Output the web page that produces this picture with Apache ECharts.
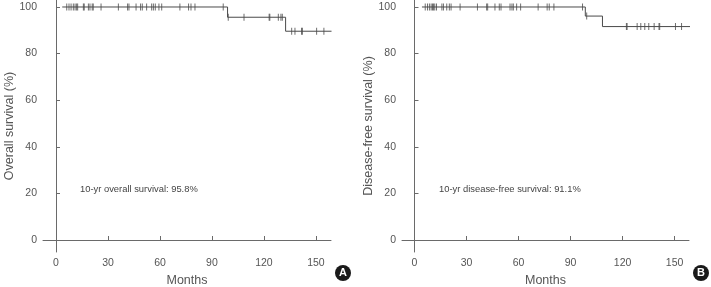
<!DOCTYPE html>
<html>
<head>
<meta charset="utf-8">
<script src="https://cdn.jsdelivr.net/npm/echarts@6/dist/echarts.min.js"></script>
<style>
html,body{margin:0;padding:0;background:#fff;}
#c{width:711px;height:287px;}
</style>
</head>
<body>
<div id="c"></div>
<script>
// ---- data ----
var xTicks = [0, 30, 60, 90, 120, 150];
var yTicks = [0, 20, 40, 60, 80, 100];

// Overall survival (panel A): step curve
var osTimes  = [3.6, 99, 132.5, 159];
var osValues = [100, 95.6, 89.6, 89.6];
var osCensor = [6.2, 7.5, 8.7, 10, 11, 11.9, 12.5, 15.8, 16.3, 18.7, 19.6, 20.9, 21.5, 26, 36, 41.3, 42.1, 46.2, 48.8, 49.8, 52.3, 55.2, 56.2, 57.3, 59.4, 61, 71.5, 76.5, 77.9, 80.2, 96.5,
                99.4, 108.5, 123, 123.4, 128.3, 129.8, 130.6,
                136, 137.9, 141.7, 142.2, 150.4, 154.6];

// Disease-free survival (panel B): step curve
var dfsTimes  = [4.3, 98.5, 108.4, 159];
var dfsValues = [100, 96.1, 91.6, 91.6];
var dfsCensor = [6.2, 7.5, 8.6, 9.6, 10.4, 11, 11.7, 12.7, 15.8, 16.7, 18.6, 20.1, 21.1, 26.3, 36.3, 41.6, 42.2, 46.4, 48.9, 49.9, 55.1, 56.2, 57, 58.9, 61.2, 71.3, 76.5, 77.7, 80.4, 96.9,
                 99.3,
                 122.2, 122.6, 128.4, 130.5, 132.8, 135.1, 138.2, 141, 141.4, 150.5, 154];

var osNote = '10-yr overall survival: 95.8%';
var dfsNote = '10-yr disease-free survival: 91.1%';

// ---- helpers ----
function pairs(t, v) { return t.map(function (x, i) { return [x, v[i]]; }); }
function levelAt(t, v, x) {
  var y = v[0];
  for (var i = 0; i < t.length; i++) { if (t[i] <= x) y = v[i]; }
  return y;
}
function censorPts(ct, t, v) { return ct.map(function (x) { return [x, levelAt(t, v, x)]; }); }

var FONT = '"Liberation Sans", Arial, sans-serif';
var AX = '#6a6a6a';
var TXT = '#555';
var LINE = '#4a4a4a';

function xAxisCfg(idx, min, max) {
  return {
    type: 'value', gridIndex: idx, min: min, max: max,
    name: 'Months', nameLocation: 'middle', nameGap: 21,
    nameTextStyle: { fontFamily: FONT, fontSize: 12.5, color: TXT },
    axisLine: { show: true, lineStyle: { color: AX, width: 1 } },
    axisTick: { show: true, inside: true, length: 4, customValues: xTicks, lineStyle: { color: AX } },
    axisLabel: { customValues: xTicks, fontFamily: FONT, fontSize: 10.5, color: TXT, margin: 6 },
    splitLine: { show: false }
  };
}
function yAxisCfg(idx, name) {
  return {
    type: 'value', gridIndex: idx, min: -5.15, max: 103,
    name: name, nameLocation: 'middle', nameGap: 27,
    nameTextStyle: { fontFamily: FONT, fontSize: 12.5, color: TXT },
    axisLine: { show: true, lineStyle: { color: AX, width: 1 } },
    axisTick: { show: true, inside: true, length: 4, customValues: yTicks, lineStyle: { color: AX } },
    axisLabel: { customValues: yTicks, fontFamily: FONT, fontSize: 10.5, color: TXT, margin: 6 },
    splitLine: { show: false }
  };
}

var chart = echarts.init(document.getElementById('c'), null, { renderer: 'canvas' });
chart.setOption({
  animation: false,
  backgroundColor: '#fff',
  grid: [
    { left: 43, top: 0, width: 288, height: 252, containLabel: false, outerBoundsMode: 'none' },
    { left: 402, top: 0, width: 287, height: 252, containLabel: false, outerBoundsMode: 'none' }
  ],
  xAxis: [xAxisCfg(0, -7.5, 158.7), xAxisCfg(1, -7.2, 158.3)],
  yAxis: [yAxisCfg(0, 'Overall survival (%)'), yAxisCfg(1, 'Disease-free survival (%)')],
  series: [
    { type: 'line', xAxisIndex: 0, yAxisIndex: 0, step: 'end', showSymbol: false,
      data: pairs(osTimes, osValues), lineStyle: { color: LINE, width: 1 } },
    { type: 'scatter', xAxisIndex: 0, yAxisIndex: 0, symbol: 'rect', symbolSize: [1, 7],
      itemStyle: { color: LINE }, data: censorPts(osCensor, osTimes, osValues) },
    { type: 'line', xAxisIndex: 1, yAxisIndex: 1, step: 'end', showSymbol: false,
      data: pairs(dfsTimes, dfsValues), lineStyle: { color: LINE, width: 1 } },
    { type: 'scatter', xAxisIndex: 1, yAxisIndex: 1, symbol: 'rect', symbolSize: [1, 7],
      itemStyle: { color: LINE }, data: censorPts(dfsCensor, dfsTimes, dfsValues) }
  ],
  graphic: [
    { type: 'text', left: 80, top: 185, style: { text: osNote, font: '9.4px ' + FONT, fill: '#444' } },
    { type: 'text', left: 439, top: 185, style: { text: dfsNote, font: '9.4px ' + FONT, fill: '#444' } },
    { type: 'circle', shape: { cx: 343, cy: 273, r: 8 }, style: { fill: '#1a1a1a' } },
    { type: 'text', x: 343, y: 273, style: { text: 'A', font: 'bold 11px ' + FONT, fill: '#fff', align: 'center', verticalAlign: 'middle' } },
    { type: 'circle', shape: { cx: 701, cy: 273, r: 8 }, style: { fill: '#1a1a1a' } },
    { type: 'text', x: 701, y: 273, style: { text: 'B', font: 'bold 11px ' + FONT, fill: '#fff', align: 'center', verticalAlign: 'middle' } }
  ]
});
</script>
</body>
</html>
